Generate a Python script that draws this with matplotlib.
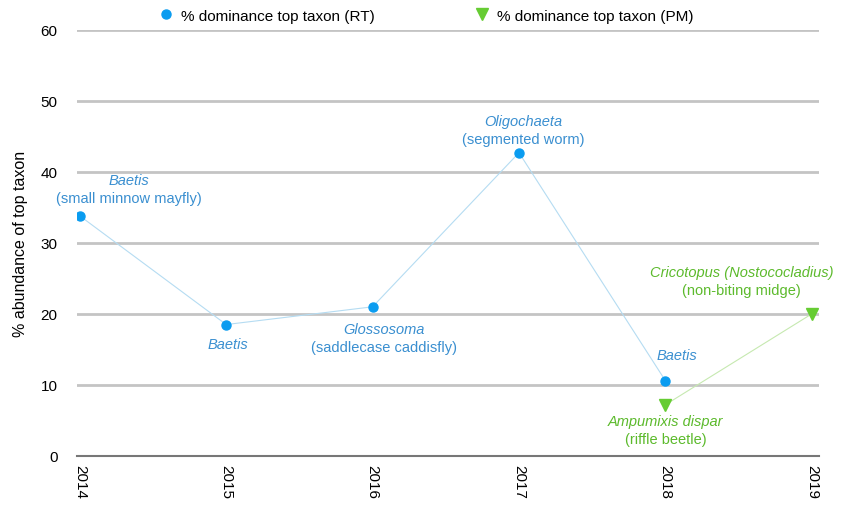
import numpy as np
import matplotlib.pyplot as plt

plt.rcParams['font.family'] = ['Liberation Sans', 'DejaVu Sans']

years = [2014, 2015, 2016, 2017, 2018, 2019]
rt_years = [2014, 2015, 2016, 2017, 2018]
rt_values = [33.8, 18.5, 21.0, 42.7, 10.6]
pm_years = [2018, 2019]
pm_values = [7.2, 20.0]

blue = '#0a9cf0'
blue_text = '#3a8fd0'
green = '#66cc33'
green_text = '#5cba2c'

# (x, y, italic name, common name, offset in pixels, colour)
labels = [
    (2014, 33.8, 'Baetis', '(small minnow mayfly)', (49, 27), blue_text),
    (2015, 18.5, 'Baetis', None, (2, -19), blue_text),
    (2016, 21.0, 'Glossosoma', '(saddlecase caddisfly)', (11, -31), blue_text),
    (2017, 42.7, 'Oligochaeta', '(segmented worm)', (4, 23), blue_text),
    (2018, 10.6, 'Baetis', None, (12, 26), blue_text),
    (2018, 7.2, 'Ampumixis dispar', '(riffle beetle)', (0, -25), green_text),
    (2019, 20.0, 'Cricotopus (Nostococladius)', '(non-biting midge)', (-70, 33), green_text),
]

fig = plt.figure(figsize=(8.64, 5.06), dpi=100)
ax = fig.add_axes([0.089, 0.097, 0.859, 0.842])

ax.plot(rt_years, rt_values, color='#b5dcf2', lw=0.8, zorder=2)
ax.plot(rt_years, rt_values, 'o', color=blue, ms=6.5, zorder=3,
        label='% dominance top taxon (RT)')
ax.plot(pm_years, pm_values, color='#c6e9b0', lw=0.8, zorder=2)
ax.plot(pm_years, pm_values, 'v', color=green, ms=8, zorder=3,
        label='% dominance top taxon (PM)')

for x, y, name, common, (dx, dy), col in labels:
    if common is None:
        ax.annotate(name, (x, y), xytext=(dx, dy), textcoords='offset pixels',
                    ha='center', va='center', color=col, fontsize=10.5,
                    style='italic')
    else:
        ax.annotate(name, (x, y), xytext=(dx, dy + 9), textcoords='offset pixels',
                    ha='center', va='center', color=col, fontsize=10.5,
                    style='italic')
        ax.annotate(common, (x, y), xytext=(dx, dy - 9), textcoords='offset pixels',
                    ha='center', va='center', color=col, fontsize=10.5)

ax.set_xlim(2013.98, 2019.05)
ax.set_ylim(0, 60)
ax.set_yticks(np.arange(0, 61, 10))
ax.set_xticks(years)
ax.set_xticklabels([str(y) for y in years], rotation=-90, fontsize=11)
ax.tick_params(axis='y', labelsize=11, length=0, pad=14)
ax.tick_params(axis='x', length=0, pad=6)
ax.grid(axis='y', color='#c4c4c4', lw=2)
ax.set_axisbelow(True)
for s in ['top', 'right', 'left']:
    ax.spines[s].set_visible(False)
ax.spines['bottom'].set_color('#777777')
ax.spines['bottom'].set_linewidth(1.5)
ax.set_ylabel('% abundance of top taxon', fontsize=11.5, labelpad=9)

ax.legend(loc='lower center', bbox_to_anchor=(0.47, 0.985), ncol=2, frameon=False,
          fontsize=11, handletextpad=0.5, columnspacing=6.5, handlelength=1)

fig.savefig('out.png', dpi=100)
